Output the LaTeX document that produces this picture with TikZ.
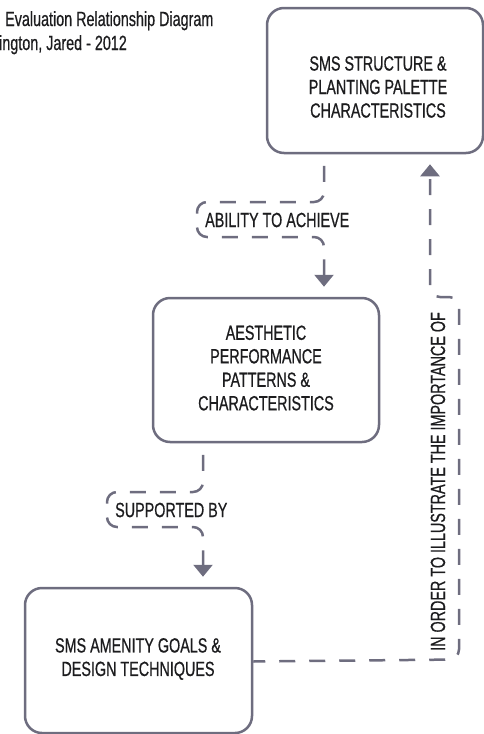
\documentclass[tikz,border=0pt]{standalone}
\usepackage{fontspec}
\setmainfont{Liberation Sans}[FakeStretch=0.7, FakeBold=0.6]
\usetikzlibrary{arrows.meta}
\definecolor{edgegrey}{RGB}{110,109,127}
\definecolor{inkdark}{RGB}{28,28,30}
\tikzset{
  box/.style={draw=edgegrey, line width=2.5pt, rounded corners=17pt, fill=white},
  boxtext/.style={align=center, text=inkdark, font=\fontsize{20.5}{23.5}\selectfont, inner sep=0pt},
  linktext/.style={text=inkdark, font=\fontsize{20.5}{23.5}\selectfont, inner sep=0pt},
  titletext/.style={text=inkdark, font=\fontsize{20.5}{24}\selectfont, inner sep=0pt},
  link/.style={draw=edgegrey, line width=2.5pt, dash pattern=on 16pt off 14pt,
    rounded corners=10pt, -{Triangle[width=19pt,length=12pt]}},
}
\begin{document}
\begin{tikzpicture}[x=1pt,y=-1pt]
\useasboundingbox (0,0) rectangle (484,734);

% heading (runs off the left edge)
\node[titletext, anchor=base west] (title1) at (5,26) {Evaluation Relationship Diagram};
\node[titletext, anchor=base west] (title2) at (-1,50) {ington, Jared - 2012};

% the three boxes
\node[box, minimum width=216pt, minimum height=145pt] (b1) at (375,80.5) {};
\node[boxtext] (t1) at (378,87) {SMS STRUCTURE \&\\PLANTING PALETTE\\CHARACTERISTICS};

\node[box, minimum width=226pt, minimum height=144pt] (b2) at (266,370) {};
\node[boxtext] (t2) at (266,368) {AESTHETIC\\PERFORMANCE\\PATTERNS \&\\CHARACTERISTICS};

\node[box, minimum width=227pt, minimum height=145pt] (b3) at (138.5,660.5) {};
\node[boxtext] (t3) at (138,659) {SMS AMENITY GOALS \&\\DESIGN TECHNIQUES};

% structure -> aesthetic performance
\coordinate (k1a) at ([xshift=-51pt]b1.south);
\coordinate (k1b) at ([xshift=58pt,yshift=10pt]b2.north);
\draw[link, dash phase=18.5pt] (k1a) -- (324,202) -- (197,202) -- (197,237) -- (324,237) -- (k1b);
\node[linktext, anchor=west] (l1) at (205,220) {ABILITY TO ACHIEVE};

% aesthetic performance -> amenity goals
\coordinate (k2a) at ([xshift=-63pt]b2.south);
\coordinate (k2b) at ([xshift=64.5pt,yshift=10pt]b3.north);
\draw[link, dash phase=18.5pt] (k2a) -- (203,492) -- (107,492) -- (107,527) -- (203,527) -- (k2b);
\node[linktext, anchor=west] (l2) at (115,510) {SUPPORTED BY};

% amenity goals -> structure
\coordinate (k3b) at ([xshift=55pt,yshift=-10pt]b1.south);
\draw[link, dash phase=4pt] ([yshift=-1pt]b3.east) -- (459,659.5) -- (459,297) -- (430,297) -- (k3b);
\node[linktext, rotate=90, anchor=base west] (l3) at (445,651) {IN ORDER TO ILLUSTRATE THE IMPORTANCE OF};
\end{tikzpicture}
\end{document}
